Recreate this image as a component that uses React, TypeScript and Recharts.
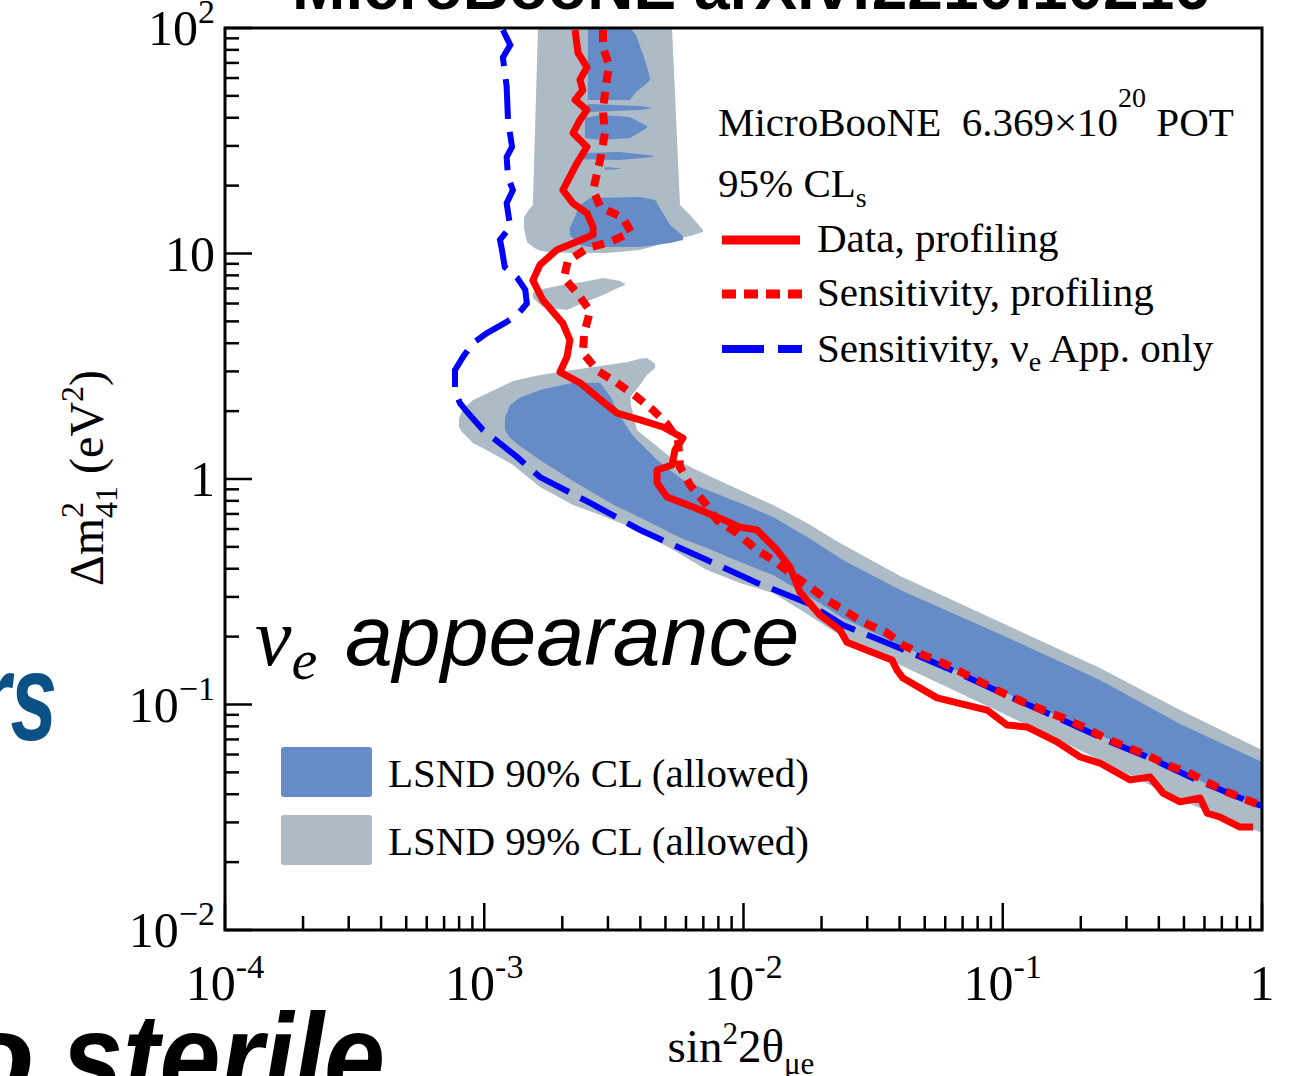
import React from 'react';
import { ComposedChart, Area, Line, XAxis, YAxis, ReferenceArea } from 'recharts';

const W = 1296;
const H = 1076;
const SERIF = '"Liberation Serif", "Times New Roman", serif';
const SANS = '"Liberation Sans", Arial, sans-serif';
const GRAY = '#acbbc6';
const BLUE = '#658cc7';

// axis ticks
const xMajor = [1e-4, 1e-3, 1e-2, 1e-1, 1];
const xMinor = [
  2e-4, 3e-4, 4e-4, 5e-4, 6e-4, 7e-4, 8e-4, 9e-4,
  2e-3, 3e-3, 4e-3, 5e-3, 6e-3, 7e-3, 8e-3, 9e-3,
  0.02, 0.03, 0.04, 0.05, 0.06, 0.07, 0.08, 0.09,
  0.2, 0.3, 0.4, 0.5, 0.6, 0.7, 0.8, 0.9,
];
const yMajor = [0.01, 0.1, 1, 10, 100];
const yMinor = [
  0.02, 0.03, 0.04, 0.05, 0.06, 0.07, 0.08, 0.09,
  0.2, 0.3, 0.4, 0.5, 0.6, 0.7, 0.8, 0.9,
  2, 3, 4, 5, 6, 7, 8, 9,
  20, 30, 40, 50, 60, 70, 80, 90,
];
const xTickBase = ['10', '10', '10', '10', '1'];
const xTickExp = ['-4', '-3', '-2', '-1', ''];
const yTickBase = ['10', '10', '1', '10', '10'];
const yTickExp = ['\u22122', '\u22121', '', '', '2'];

// LSND 99% CL (allowed) pieces: [sin2, dm2 low, dm2 high]
const lsnd99High = [
  [1.423e-3, 12.98, 14.37],
  [1.462e-3, 11.25, 15.28],
  [1.54e-3, 10.69, 16.41],
  [1.612e-3, 10.36, 100],
  [1.746e-3, 10.15, 100],
  [2.2e-3, 10.05, 100],
  [2.975e-3, 10.05, 100],
  [3.99e-3, 10.36, 100],
  [5.3e-3, 11.36, 100],
  [5.69e-3, 11.71, 16.41],
  [6.22e-3, 11.96, 14.82],
  [6.98e-3, 12.45, 12.71],
];
const lsnd99Island = [
  [1.54e-3, 6.35, 6.7],
  [1.685e-3, 5.79, 6.96],
  [2.085e-3, 5.61, 7.32],
  [2.4e-3, 6.03, 7.47],
  [2.87e-3, 6.55, 7.79],
  [3.34e-3, 7.1, 7.55],
  [3.49e-3, 7.25, 7.32],
];
const lsnd99Band = [
  [7.99e-4, 1.7, 1.84],
  [8.21e-4, 1.616, 2.02],
  [9.05e-4, 1.444, 2.24],
  [1.053e-3, 1.317, 2.43],
  [1.291e-3, 1.154, 2.72],
  [1.641e-3, 0.922, 2.89],
  [2.2e-3, 0.767, 3.04],
  [2.8e-3, 0.692, 3.17],
  [3.58e-3, 0.619, 3.3],
  [3.68e-3, 0.606, 2.13],
  [3.88e-3, 0.588, 1.649],
  [5.21e-3, 0.494, 1.252],
  [7.23e-3, 0.395, 1.042],
  [9.69e-3, 0.346, 0.894],
  [1.3e-2, 0.312, 0.767],
  [1.758e-2, 0.252, 0.638],
  [2.356e-2, 0.203, 0.52],
  [4.02e-2, 0.1497, 0.371],
  [9.76e-2, 0.0926, 0.232],
  [0.2372, 0.0567, 0.1452],
  [0.483, 0.0377, 0.0945],
  [1.0, 0.0269, 0.0628],
];
const lsnd99Hook = [
  [3.58e-3, 2.24, 3.3],
  [3.99e-3, 2.61, 3.41],
  [4.24e-3, 2.89, 3.44],
  [4.56e-3, 3.11, 3.24],
];

// LSND 90% CL (allowed) pieces
const lsnd90Band = [
  [1.202e-3, 1.649, 1.865],
  [1.257e-3, 1.52, 2.13],
  [1.373e-3, 1.4, 2.29],
  [1.641e-3, 1.214, 2.48],
  [2.2e-3, 0.98, 2.67],
  [2.8e-3, 0.832, 2.67],
  [3.06e-3, 0.783, 2.33],
  [3.34e-3, 0.744, 1.9],
  [3.75e-3, 0.7, 1.551],
  [4.64e-3, 0.619, 1.214],
  [5.84e-3, 0.542, 0.99],
  [7.23e-3, 0.494, 0.894],
  [9.69e-3, 0.428, 0.783],
  [1.3e-2, 0.375, 0.679],
  [1.758e-2, 0.306, 0.553],
  [2.42e-2, 0.242, 0.437],
  [4.02e-2, 0.1836, 0.322],
  [9.76e-2, 0.1159, 0.205],
  [0.2372, 0.0732, 0.1284],
  [0.483, 0.0502, 0.0819],
  [1.0, 0.0348, 0.0556],
];
const lsnd90Column = [
  [2.51e-3, 47.9, 100],
  [3.65e-3, 47.9, 100],
  [3.85e-3, 52, 93],
  [4.17e-3, 55.9, 72],
  [4.36e-3, 58.8, 60],
];
const lsnd90StreakA = [
  [2.51e-3, 42.4, 46],
  [3.99e-3, 43.3, 45.1],
  [4.44e-3, 44.2, 44.3],
];
const lsnd90StreakB = [
  [2.446e-3, 32.5, 39.9],
  [2.8e-3, 31.9, 41.1],
  [3.65e-3, 32.5, 40.3],
  [4.24e-3, 36, 36.8],
];
const lsnd90StreakC = [
  [2.4e-3, 26.2, 27.9],
  [3.34e-3, 26, 28.2],
  [4.48e-3, 26.8, 27.1],
];
const lsnd90StreakD = [
  [2.92e-3, 23.5, 24.2],
  [3.34e-3, 23.7, 23.9],
];
const lsnd90Blob = [
  [2.14e-3, 12.08, 12.98],
  [2.34e-3, 10.91, 16.41],
  [2.557e-3, 10.69, 17.63],
  [3.99e-3, 10.69, 17.81],
  [4.56e-3, 10.91, 17.27],
  [5.21e-3, 11.13, 13.38],
  [5.84e-3, 11.48, 11.96],
];

// MicroBooNE 95% CLs contours: [sin2, dm2]
const dataProfiling = [
  [2.24e-3, 98], [2.3e-3, 77.5], [2.49e-3, 67], [2.34e-3, 59], [2.4e-3, 53],
  [2.24e-3, 48], [2.49e-3, 43.3], [2.34e-3, 39.1], [2.2e-3, 34.2], [2.49e-3, 29.7],
  [2.28e-3, 25.2], [2.01e-3, 19.1], [2.2e-3, 16.7], [2.49e-3, 15.1], [2.63e-3, 13.1],
  [2.63e-3, 12.1], [2.2e-3, 11.1], [1.91e-3, 10.4], [1.64e-3, 8.9], [1.54e-3, 7.6],
  [1.685e-3, 6.2], [2.01e-3, 4.9], [2.14e-3, 4.13], [2.085e-3, 3.48], [1.96e-3, 2.98],
  [2.34e-3, 2.67], [2.87e-3, 2.2], [3.25e-3, 1.96], [3.99e-3, 1.83], [4.89e-3, 1.7],
  [5.84e-3, 1.52], [5.44e-3, 1.345], [5.3e-3, 1.154], [4.64e-3, 1.096], [4.64e-3, 0.96],
  [5.07e-3, 0.832], [6.39e-3, 0.751], [7.9e-3, 0.679], [9.69e-3, 0.612], [1.127e-2, 0.594],
  [1.346e-2, 0.484], [1.511e-2, 0.407], [1.651e-2, 0.315], [1.973e-2, 0.249], [2.356e-2, 0.214],
  [2.506e-2, 0.189], [2.995e-2, 0.174], [3.74e-2, 0.1575], [3.91e-2, 0.142], [4.12e-2, 0.131],
  [5.58e-2, 0.107], [8.7e-2, 0.0945], [0.1038, 0.0811], [0.124, 0.0795], [0.162, 0.0682],
  [0.199, 0.0585], [0.237, 0.055], [0.31, 0.0463], [0.37, 0.0477], [0.415, 0.0405],
  [0.483, 0.037], [0.577, 0.0385], [0.614, 0.033], [0.689, 0.0317], [0.822, 0.0286],
  [0.923, 0.0286],
];
const sensProfiling = [
  [2.87e-3, 98], [2.87e-3, 82], [3.03e-3, 68.5], [2.95e-3, 56], [2.87e-3, 43.3],
  [2.92e-3, 34.2], [2.8e-3, 26], [2.63e-3, 19.1], [2.8e-3, 16.1], [3.43e-3, 14.4],
  [3.68e-3, 12.45], [3.06e-3, 11.25], [2.51e-3, 10.6], [2.1e-3, 9.26], [2.03e-3, 7.8],
  [2.3e-3, 6.6], [2.56e-3, 5.56], [2.43e-3, 4.44], [2.4e-3, 3.62], [2.75e-3, 3.01],
  [3.25e-3, 2.67], [3.88e-3, 2.31], [4.48e-3, 2.02], [5.07e-3, 1.75], [5.59e-3, 1.49],
  [5.69e-3, 1.13], [6.22e-3, 0.94], [7.1e-3, 0.783], [7.9e-3, 0.658], [9.44e-3, 0.576],
  [1.127e-2, 0.484], [1.3e-2, 0.437], [1.511e-2, 0.383], [1.805e-2, 0.332], [2.1e-2, 0.291],
  [2.506e-2, 0.257], [2.89e-2, 0.232], [3.58e-2, 0.2075], [4.12e-2, 0.1836], [4.93e-2, 0.1658],
  [5.88e-2, 0.1528], [7.03e-2, 0.1379], [8.39e-2, 0.1245], [0.1, 0.1125], [0.12, 0.1026],
  [0.143, 0.0945], [0.171, 0.0871], [0.204, 0.0795], [0.244, 0.0718], [0.3, 0.0648],
  [0.36, 0.0597], [0.43, 0.0539], [0.514, 0.0502], [0.614, 0.0453], [0.733, 0.0409],
  [0.875, 0.0377], [0.98, 0.0358],
];
const sensAppOnly = [
  [1.18e-3, 98], [1.26e-3, 84], [1.18e-3, 74], [1.22e-3, 55], [1.235e-3, 39],
  [1.28e-3, 29.7], [1.22e-3, 26.8], [1.235e-3, 21.8], [1.29e-3, 19.1], [1.22e-3, 16.7],
  [1.26e-3, 13.1], [1.15e-3, 11.5], [1.17e-3, 10.4], [1.2e-3, 8.7], [1.34e-3, 7.8],
  [1.44e-3, 6.9], [1.46e-3, 6.0], [1.34e-3, 5.34], [1.22e-3, 4.97], [1.025e-3, 4.44],
  [9.05e-4, 4.01], [8.28e-4, 3.48], [7.71e-4, 3.04], [7.71e-4, 2.48], [8.06e-4, 2.17],
  [8.66e-4, 1.96], [9.89e-4, 1.65], [1.15e-3, 1.44], [1.34e-3, 1.25], [1.64e-3, 1.02],
  [2.56e-3, 0.783], [3.99e-3, 0.594], [7.23e-3, 0.437], [1.13e-2, 0.346], [1.76e-2, 0.282],
  [2.42e-2, 0.225], [3.91e-2, 0.18], [6.1e-2, 0.145], [0.107, 0.108], [0.148, 0.0917],
  [0.266, 0.0675], [0.37, 0.0579], [0.56, 0.0463], [0.92, 0.0366], [1.0, 0.0355],
];

const toXY = (rows: number[][]) => rows.map(([x, y]) => ({ x, y }));
const toBand = (rows: number[][]) => rows.map(([x, lo, hi]) => ({ x, r: [lo, hi] }));

function XTick(props: any) {
  const { x, y, payload } = props;
  const i = xMajor.indexOf(payload.value);
  const len = i >= 0 ? 27 : 14;
  return (
    <g>
      <line x1={x} x2={x} y1={y} y2={y - len} stroke="#000" strokeWidth={2.5} />
      {i >= 0 && (
        <text x={x} y={y + 70} textAnchor="middle" fontFamily={SERIF} fontSize={50} fill="#000">
          {xTickBase[i]}
          {xTickExp[i] && <tspan dy={-22} fontSize={34}>{xTickExp[i]}</tspan>}
        </text>
      )}
    </g>
  );
}

function YTick(props: any) {
  const { x, y, payload } = props;
  const i = yMajor.indexOf(payload.value);
  const len = i >= 0 ? 27 : 14;
  return (
    <g>
      <line x1={x} x2={x + len} y1={y} y2={y} stroke="#000" strokeWidth={2.5} />
      {i >= 0 && (
        <text x={x - 10} y={y + 17} textAnchor="end" fontFamily={SERIF} fontSize={50} fill="#000">
          {yTickBase[i]}
          {yTickExp[i] && <tspan dy={-22} fontSize={34}>{yTickExp[i]}</tspan>}
        </text>
      )}
    </g>
  );
}

function Overlay() {
  const t = { fontFamily: SERIF, fontSize: 41, fill: '#000' };
  return (
    <svg width={W} height={H} style={{ position: 'absolute', left: 0, top: 0, pointerEvents: 'none' }}>
      {/* cropped slide fragments */}
      <text x={751} y={9} textAnchor="middle" fontFamily={SANS} fontWeight="bold" fontSize={64} fill="#000">
        MicroBooNE arXiv:2210.10216
      </text>
      <text x={-22} y={740} fontFamily={SANS} fontWeight="bold" fontStyle="italic" fontSize={125}
        fill="#0b5186" textLength={79} lengthAdjust="spacingAndGlyphs">rs</text>
      <text x={-42} y={1100} fontFamily={SANS} fontWeight="bold" fontStyle="italic" fontSize={125} fill="#000">o</text>
      <text x={62} y={1100} fontFamily={SANS} fontWeight="bold" fontStyle="italic" fontSize={125} fill="#000"
        textLength={323} lengthAdjust="spacingAndGlyphs">sterile</text>

      {/* axis titles */}
      <text x={741} y={1062} textAnchor="middle" fontFamily={SERIF} fontSize={47} fill="#000">
        sin<tspan dy={-18} fontSize={31}>2</tspan><tspan dy={18}>2θ</tspan>
        <tspan dy={12} fontSize={31}>μe</tspan>
      </text>
      <text x={103} y={478} textAnchor="middle" fontFamily={SERIF} fontSize={48} fill="#000"
        transform="rotate(-90 103 478)">
        Δm<tspan dy={-20} fontSize={32}>2</tspan>
        <tspan dx={-16} dy={34} fontSize={32}>41</tspan>
        <tspan dy={-14}> (eV</tspan><tspan dy={-20} fontSize={32}>2</tspan><tspan dy={20}>)</tspan>
      </text>

      {/* in-plot label */}
      <text x={255} y={665} fontFamily={SERIF} fontStyle="italic" fontSize={82} fill="#000">
        ν<tspan dy={14} fontSize={58}>e</tspan>
      </text>
      <text x={345} y={665} fontFamily={SANS} fontStyle="italic" fontSize={86} fill="#000">appearance</text>

      {/* line legend */}
      <text x={718} y={136} {...t}>
        MicroBooNE{'\u00a0\u00a0'}6.369×10<tspan dy={-29} fontSize={28}>20</tspan><tspan dy={29}> POT</tspan>
      </text>
      <text x={718} y={197} {...t}>
        95% CL<tspan dy={10} fontSize={28}>s</tspan>
      </text>
      <line x1={722} x2={800} y1={240} y2={240} stroke="#ff0000" strokeWidth={9} />
      <line x1={722} x2={802} y1={294} y2={294} stroke="#ff0000" strokeWidth={9} strokeDasharray="14 8" />
      <line x1={722} x2={802} y1={349} y2={349} stroke="#0000ff" strokeWidth={8} strokeDasharray="42 14" />
      <text x={817} y={252} {...t}>Data, profiling</text>
      <text x={817} y={306} {...t}>Sensitivity, profiling</text>
      <text x={817} y={362} {...t}>
        Sensitivity, ν<tspan dy={9} fontSize={28}>e</tspan><tspan dy={-9}> App. only</tspan>
      </text>

      {/* LSND legend */}
      <rect x={281} y={747} width={91} height={50} rx={3} fill={BLUE} />
      <rect x={281} y={815} width={91} height={50} rx={3} fill={GRAY} />
      <text x={388} y={787} {...t}>LSND 90% CL (allowed)</text>
      <text x={388} y={855} {...t}>LSND 99% CL (allowed)</text>
    </svg>
  );
}

export default function App() {
  const bandProps = { type: 'linear' as const, dataKey: 'r', stroke: 'none', fillOpacity: 1, isAnimationActive: false, activeDot: false };
  const lineProps = { type: 'linear' as const, dataKey: 'y', dot: false, activeDot: false, isAnimationActive: false };
  return (
    <div style={{ position: 'absolute', left: 0, top: 0, width: W, height: H, overflow: 'hidden', background: '#fff' }}>
      <ComposedChart width={W} height={H} margin={{ top: 28, right: 34, bottom: 0, left: 0 }}>
        <XAxis
          type="number"
          dataKey="x"
          scale="log"
          domain={[1e-4, 1]}
          allowDataOverflow
          ticks={[...xMajor, ...xMinor]}
          interval={0}
          tick={(p: any) => <XTick {...p} />}
          tickLine={false}
          axisLine={false}
          tickSize={0}
          tickMargin={0}
          height={146}
        />
        <YAxis
          type="number"
          scale="log"
          domain={[0.01, 100]}
          allowDataOverflow
          ticks={[...yMajor, ...yMinor]}
          interval={0}
          tick={(p: any) => <YTick {...p} />}
          tickLine={false}
          axisLine={false}
          tickSize={0}
          tickMargin={0}
          width={225}
        />
        <Area {...bandProps} data={toBand(lsnd99High)} fill={GRAY} />
        <Area {...bandProps} data={toBand(lsnd99Island)} fill={GRAY} />
        <Area {...bandProps} data={toBand(lsnd99Band)} fill={GRAY} />
        <Area {...bandProps} data={toBand(lsnd99Hook)} fill={GRAY} />
        <Area {...bandProps} data={toBand(lsnd90Band)} fill={BLUE} />
        <Area {...bandProps} data={toBand(lsnd90Column)} fill={BLUE} />
        <Area {...bandProps} data={toBand(lsnd90StreakA)} fill={BLUE} />
        <Area {...bandProps} data={toBand(lsnd90StreakB)} fill={BLUE} />
        <Area {...bandProps} data={toBand(lsnd90StreakC)} fill={BLUE} />
        <Area {...bandProps} data={toBand(lsnd90StreakD)} fill={BLUE} />
        <Area {...bandProps} data={toBand(lsnd90Blob)} fill={BLUE} />
        <Line {...lineProps} data={toXY(sensAppOnly)} stroke="#0000ff" strokeWidth={6} strokeDasharray="40 13" />
        <Line {...lineProps} data={toXY(sensProfiling)} stroke="#ff0000" strokeWidth={8} strokeDasharray="12 9" />
        <Line {...lineProps} data={toXY(dataProfiling)} stroke="#ff0000" strokeWidth={7} strokeLinejoin="round" />
        <ReferenceArea x1={1e-4} x2={1} y1={0.01} y2={100} fill="none" stroke="#000" strokeWidth={3} ifOverflow="visible" />
      </ComposedChart>
      <Overlay />
    </div>
  );
}
